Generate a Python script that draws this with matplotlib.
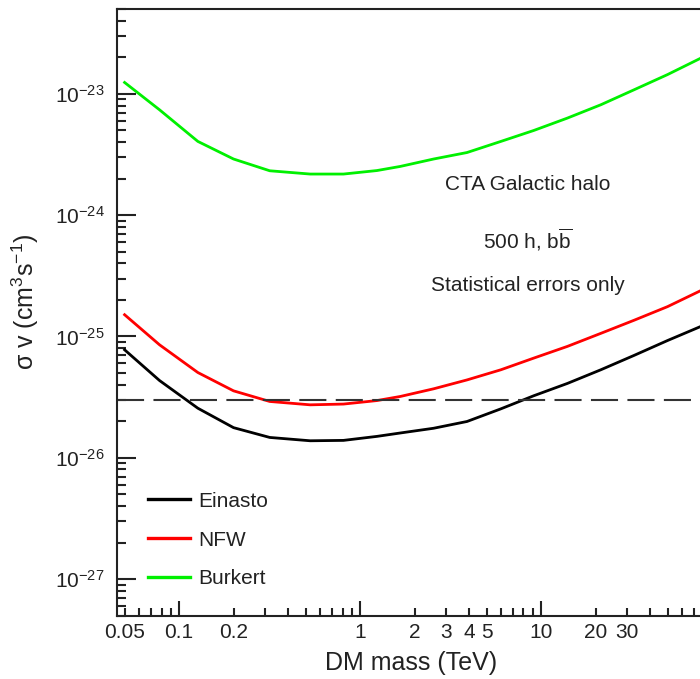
import matplotlib
matplotlib.use("Agg")
import matplotlib.pyplot as plt
from matplotlib.ticker import FixedLocator, FixedFormatter, NullFormatter
from matplotlib.lines import Line2D

plt.rcParams['font.family'] = ['Liberation Sans', 'DejaVu Sans']
plt.rcParams['mathtext.fontset'] = 'custom'
plt.rcParams['mathtext.rm'] = 'Liberation Sans'
plt.rcParams['mathtext.it'] = 'Liberation Sans:italic'
plt.rcParams['mathtext.bf'] = 'Liberation Sans:bold'

# ---- data ----
mass = [0.05, 0.078, 0.127, 0.2, 0.317, 0.53, 0.81, 1.24, 1.67, 2.55, 3.9, 6.0,
        9.1, 14, 21.4, 32.7, 50, 76.5, 100]
einasto = [7.76e-26, 4.33e-26, 2.56e-26, 1.77e-26, 1.47e-26, 1.38e-26, 1.39e-26,
           1.50e-26, 1.60e-26, 1.75e-26, 1.99e-26, 2.53e-26, 3.24e-26, 4.10e-26,
           5.31e-26, 6.98e-26, 9.25e-26, 1.21e-25, 1.45e-25]
nfw = [1.51e-25, 8.53e-26, 5.04e-26, 3.56e-26, 2.91e-26, 2.73e-26, 2.77e-26,
       2.96e-26, 3.20e-26, 3.70e-26, 4.38e-26, 5.31e-26, 6.62e-26, 8.28e-26,
       1.06e-25, 1.36e-25, 1.76e-25, 2.39e-25, 2.93e-25]
burkert = [1.24e-23, 7.38e-24, 4.05e-24, 2.90e-24, 2.32e-24, 2.18e-24, 2.18e-24,
           2.33e-24, 2.52e-24, 2.90e-24, 3.28e-24, 4.05e-24, 4.98e-24, 6.31e-24,
           8.12e-24, 1.08e-23, 1.44e-23, 1.97e-23, 2.43e-23]
thermal_xs = 3e-26
series_names = ["Einasto", "NFW", "Burkert"]
series_colors = ["black", "#ff0000", "#00f000"]

x_major = [0.1, 1, 10, 100]
x_major_labels = ["0.1", "1", "10", ""]
x_minor = [0.05, 0.06, 0.07, 0.08, 0.09, 0.2, 0.3, 0.4, 0.5, 0.6, 0.7, 0.8, 0.9,
           2, 3, 4, 5, 6, 7, 8, 9, 20, 30, 40, 50, 60, 70, 80, 90]
x_minor_labels = ["0.05", "", "", "", "", "0.2", "", "", "", "", "", "", "",
                  "2", "3", "4", "5", "", "", "", "", "20", "30", "", "", "", "", "", ""]

W, H = 700, 679
fig = plt.figure(figsize=(W / 100, H / 100), dpi=100)
ax = fig.add_axes([117 / W, (H - 616) / H, (722 - 117) / W, (616 - 9) / H])

for vals, name, col in zip([einasto, nfw, burkert], series_names, series_colors):
    ax.plot(mass, vals, color=col, lw=2.0, solid_joinstyle='round')

ax.axhline(thermal_xs, color='#333333', lw=1.5, dashes=(13, 4.5))

ax.set_xscale('log')
ax.set_yscale('log')
ax.set_xlim(0.0454, 100)
ax.set_ylim(4.96e-28, 5.0e-23)

ax.xaxis.set_major_locator(FixedLocator(x_major))
ax.xaxis.set_major_formatter(FixedFormatter(x_major_labels))
ax.xaxis.set_minor_locator(FixedLocator(x_minor))
ax.xaxis.set_minor_formatter(FixedFormatter(x_minor_labels))

y_major = [1e-27, 1e-26, 1e-25, 1e-24, 1e-23]
y_minor = [m * 10.0 ** e for e in range(-28, -22) for m in range(2, 10)]
ax.yaxis.set_major_locator(FixedLocator(y_major))
ax.yaxis.set_minor_locator(FixedLocator(y_minor))
ax.yaxis.set_minor_formatter(NullFormatter())

ax.tick_params(axis='both', which='both', direction='in', width=1.5, colors='#222222',
               labelcolor='#222222', labelsize=15)
ax.tick_params(axis='x', which='major', length=11, pad=5)
ax.tick_params(axis='x', which='minor', length=6, pad=5)
ax.tick_params(axis='y', which='major', length=13.5, pad=9)
ax.tick_params(axis='y', which='minor', length=6.5)
ax.tick_params(top=False, right=False)

for s in ['left', 'bottom', 'top']:
    ax.spines[s].set_linewidth(1.5)
    ax.spines[s].set_color('#222222')
ax.spines['right'].set_visible(False)

ax.set_xlabel("DM mass (TeV)", fontsize=18, color='#222222')
ax.xaxis.set_label_coords((411 - 117) / 605, -(663 - 616) / 607 + 0.0, transform=ax.transAxes)
ax.xaxis.label.set_va('center')
ax.set_ylabel(r"σ v (cm$^{3}$s$^{-1}$)", fontsize=18, color='#222222')
ax.yaxis.set_label_coords(-(117 - 41) / 605, (616 - 302) / 607)

tx = 528 / W
fig.text(tx, 1 - 185 / H, "CTA Galactic halo", ha='center', va='center', fontsize=15, color='#222222')
fig.text(tx, 1 - 240 / H, r"500 h, b$\overline{\mathrm{b}}$", ha='center', va='center', fontsize=15, color='#222222')
fig.text(tx, 1 - 285 / H, "Statistical errors only", ha='center', va='center', fontsize=15, color='#222222')

handles = [Line2D([], [], color=c, lw=2.4) for c in series_colors]
ax.legend(handles, series_names, loc='center left', bbox_to_anchor=(148 / W, 1 - 540 / H),
          bbox_transform=fig.transFigure, frameon=False, fontsize=15, borderpad=0,
          borderaxespad=0, handlelength=2.0, handletextpad=0.4, labelspacing=0.95,
          labelcolor='#222222')

fig.savefig("out.png", dpi=100)
